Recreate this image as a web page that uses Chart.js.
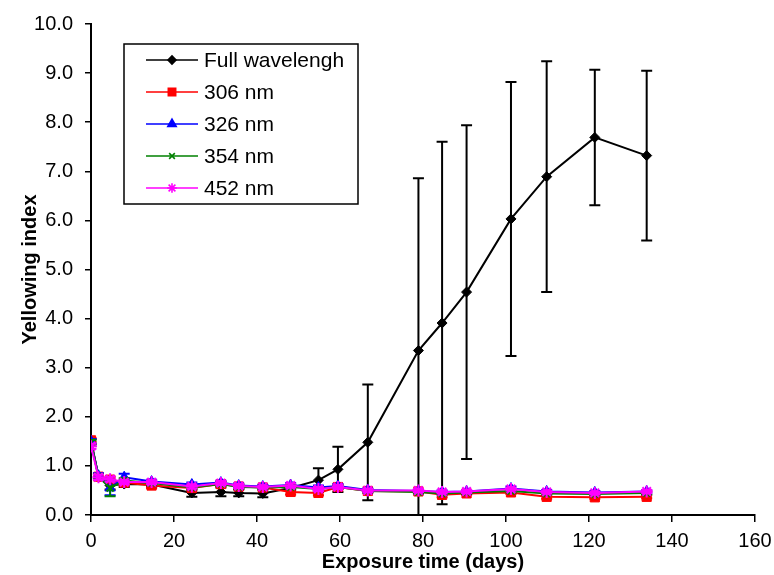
<!DOCTYPE html>
<html>
<head>
<meta charset="utf-8">
<script src="https://cdn.jsdelivr.net/npm/chart.js@4.4.1/dist/chart.umd.min.js"></script>
<style>
  html, body { margin: 0; padding: 0; background: #fff; }
  #wrap { width: 774px; height: 575px; }
</style>
</head>
<body>
<div id="wrap"><canvas id="yiChart" width="774" height="575"></canvas></div>
<script>
// exposure days
const days = [0, 1.8, 4.6, 8, 14.6, 24.3, 31.3, 35.6, 41.4, 48.1, 54.8, 59.5, 66.7, 78.9, 84.6, 90.5, 101.2, 109.8, 121.4, 133.9];

const fullWl = [1.50, 0.78, 0.60, 0.63, 0.62, 0.45, 0.47, 0.45, 0.44, 0.55, 0.71, 0.93, 1.48, 3.35, 3.91, 4.54, 6.03, 6.89, 7.69, 7.32];
const fullWlErr = [0.05, 0.05, 0.08, 0.06, 0.05, 0.08, 0.09, 0.07, 0.08, 0.05, 0.24, 0.46, 1.18, 3.51, 3.69, 3.40, 2.79, 2.35, 1.38, 1.73];

const nm306 = [1.52, 0.78, 0.72, 0.66, 0.60, 0.55, 0.63, 0.58, 0.56, 0.47, 0.45, 0.57, 0.49, 0.48, 0.41, 0.44, 0.46, 0.37, 0.36, 0.37];
const nm306Err = [0.05, 0.05, 0.06, 0.05, 0.05, 0.05, 0.05, 0.05, 0.04, 0.05, 0.05, 0.05, 0.03, 0.03, 0.05, 0.03, 0.03, 0.04, 0.03, 0.03];

const nm326 = [1.50, 0.80, 0.55, 0.77, 0.68, 0.62, 0.66, 0.60, 0.58, 0.61, 0.56, 0.59, 0.51, 0.49, 0.47, 0.48, 0.54, 0.48, 0.46, 0.48];
const nm326Err = [0.05, 0.05, 0.15, 0.07, 0.04, 0.04, 0.04, 0.04, 0.03, 0.04, 0.04, 0.04, 0.03, 0.03, 0.03, 0.03, 0.04, 0.03, 0.03, 0.03];

const nm354 = [1.48, 0.78, 0.55, 0.70, 0.65, 0.56, 0.63, 0.57, 0.56, 0.57, 0.53, 0.57, 0.49, 0.47, 0.44, 0.46, 0.49, 0.44, 0.43, 0.45];
const nm354Err = [0.05, 0.05, 0.17, 0.05, 0.04, 0.04, 0.04, 0.04, 0.03, 0.04, 0.04, 0.04, 0.03, 0.03, 0.03, 0.03, 0.03, 0.03, 0.03, 0.03];

const nm452 = [1.40, 0.77, 0.73, 0.67, 0.67, 0.58, 0.65, 0.59, 0.57, 0.60, 0.53, 0.57, 0.50, 0.50, 0.47, 0.48, 0.53, 0.47, 0.45, 0.48];
const nm452Err = [0.05, 0.05, 0.05, 0.04, 0.04, 0.04, 0.04, 0.04, 0.03, 0.04, 0.04, 0.04, 0.03, 0.03, 0.03, 0.03, 0.03, 0.03, 0.03, 0.03];

const seriesNames = ['Full wavelengh', '306 nm', '326 nm', '354 nm', '452 nm'];
const xTicks = [0, 20, 40, 60, 80, 100, 120, 140, 160];
const yTicks = [0, 1, 2, 3, 4, 5, 6, 7, 8, 9, 10];

const FONT = "'Liberation Sans', Arial, sans-serif";

const toPoints = (ys) => days.map((d, i) => ({ x: d, y: ys[i] }));

const makeSet = (name, ys, errs, color, style, radius, pbw, order) => ({
  label: name,
  data: toPoints(ys),
  errors: errs,
  borderColor: color,
  backgroundColor: color,
  borderWidth: 2,
  pointStyle: style,
  pointRadius: radius,
  pointBorderWidth: pbw,
  pointBackgroundColor: color,
  pointBorderColor: color,
  tension: 0,
  order: order
});

// vertical error bars with caps, drawn from the scales
const errorBars = {
  id: 'errorBars',
  afterDatasetDraw(chart, args) {
    const ds = chart.data.datasets[args.index];
    if (!ds.errors) return;
    const { ctx, chartArea, scales } = chart;
    const cap = 5.5;
    ctx.save();
    ctx.beginPath();
    ctx.rect(chartArea.left, chartArea.top, chartArea.right - chartArea.left, chartArea.bottom - chartArea.top + 1);
    ctx.clip();
    ctx.strokeStyle = ds.borderColor;
    ctx.lineWidth = 2;
    ds.data.forEach((p, i) => {
      const e = ds.errors[i];
      if (!e) return;
      const x = scales.x.getPixelForValue(p.x);
      const yTop = scales.y.getPixelForValue(p.y + e);
      const yBot = scales.y.getPixelForValue(p.y - e);
      ctx.beginPath();
      ctx.moveTo(x, yTop); ctx.lineTo(x, yBot);
      ctx.moveTo(x - cap, yTop); ctx.lineTo(x + cap, yTop);
      ctx.moveTo(x - cap, yBot); ctx.lineTo(x + cap, yBot);
      ctx.stroke();
    });
    ctx.restore();
  }
};

// Excel-like legend box inside the plot area
const boxLegend = {
  id: 'boxLegend',
  afterDraw(chart) {
    const { ctx, chartArea } = chart;
    const left = chartArea.left + 33, top = chartArea.top + 20;
    const w = 234, h = 160, step = 32;
    ctx.save();
    ctx.fillStyle = '#fff';
    ctx.fillRect(left, top, w, h);
    ctx.strokeStyle = '#000';
    ctx.lineWidth = 1.5;
    ctx.strokeRect(left, top, w, h);
    ctx.font = '21px ' + FONT;
    ctx.textBaseline = 'middle';
    chart.data.datasets.forEach((ds, i) => {
      const y = top + 16 + i * step;
      ctx.strokeStyle = ds.borderColor;
      ctx.lineWidth = 1.6;
      ctx.beginPath();
      ctx.moveTo(left + 22, y);
      ctx.lineTo(left + 74, y);
      ctx.stroke();
      ctx.fillStyle = ds.borderColor;
      Chart.helpers.drawPoint(ctx, {
        pointStyle: ds.pointStyle,
        radius: ds.pointRadius * 0.8,
        borderWidth: 1,
        rotation: 0
      }, left + 48, y);
      ctx.fillStyle = '#000';
      ctx.fillText(ds.label, left + 80, y + 1);
    });
    ctx.restore();
  }
};

const loadChart = () => {
  const ctx = document.getElementById('yiChart').getContext('2d');

  new Chart(ctx, {
    type: 'line',
    data: {
      datasets: [
        makeSet(seriesNames[0], fullWl, fullWlErr, '#000000', 'rectRot', 5, 1, 5),
        makeSet(seriesNames[1], nm306, nm306Err, '#ff0000', 'rect', 6.5, 1, 4),
        makeSet(seriesNames[2], nm326, nm326Err, '#0000ff', 'triangle', 6, 1, 3),
        makeSet(seriesNames[3], nm354, nm354Err, '#008000', 'crossRot', 5, 2, 2),
        makeSet(seriesNames[4], nm452, nm452Err, '#ff00ff', 'star', 6, 2, 1)
      ]
    },
    options: {
      responsive: false,
      animation: false,
      layout: { padding: { left: 1, top: 16, right: 19, bottom: 0 } },
      scales: {
        x: {
          type: 'linear',
          min: 0,
          max: 160,
          afterBuildTicks: (s) => { s.ticks = xTicks.map(v => ({ value: v })); },
          afterFit: (s) => { s.height = 60; s.paddingRight = 5; s.paddingLeft = 0; },
          grid: { drawOnChartArea: false, drawTicks: true, tickLength: 7, color: '#000', lineWidth: 1.5 },
          border: { color: '#000', width: 2 },
          ticks: { color: '#000', font: { family: FONT, size: 20 }, padding: 7, maxRotation: 0 },
          title: {
            display: true,
            text: 'Exposure time (days)',
            color: '#000',
            font: { family: FONT, size: 20, weight: 'bold' },
            padding: { top: 0, bottom: 1 }
          }
        },
        y: {
          min: 0,
          max: 10,
          afterBuildTicks: (s) => { s.ticks = yTicks.map(v => ({ value: v })); },
          afterFit: (s) => { s.width = 90; },
          grid: { drawOnChartArea: false, drawTicks: true, tickLength: 6, color: '#000', lineWidth: 1.5 },
          border: { color: '#000', width: 2 },
          ticks: {
            color: '#000',
            font: { family: FONT, size: 20 },
            padding: 12,
            callback: (v) => Number(v).toFixed(1)
          },
          title: {
            display: true,
            text: 'Yellowing index',
            color: '#000',
            font: { family: FONT, size: 20, weight: 'bold' },
            padding: { top: 17, bottom: 0 }
          }
        }
      },
      plugins: {
        legend: { display: false },
        title: { display: false },
        tooltip: { enabled: false }
      }
    },
    plugins: [errorBars, boxLegend]
  });
};

document.addEventListener('DOMContentLoaded', loadChart);
</script>
</body>
</html>
